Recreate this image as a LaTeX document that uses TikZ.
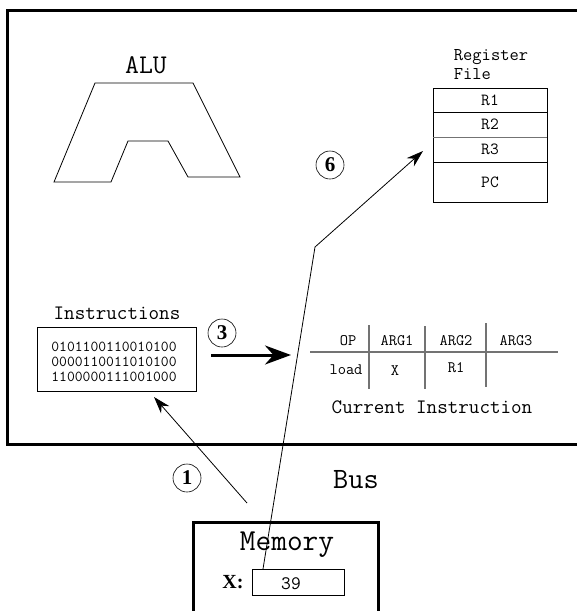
\documentclass[tikz,border=0pt]{standalone}
\usepackage{fontspec}
\setmainfont{Liberation Serif}
\usetikzlibrary{arrows.meta,positioning}
\begin{document}
\begin{tikzpicture}[x=1pt,y=-1pt,
    mono/.style={font=\ttfamily\fontsize{#1}{#1}\selectfont, inner sep=0pt},
    stepnum/.style={circle, draw, semithick, minimum size=28pt, inner sep=0pt,
      font=\bfseries\fontsize{21}{21}\selectfont},
    thinarrow/.style={-{Stealth[length=17pt,width=11pt]}, thick},
    tabline/.style={draw=black!55, line width=1.3pt}]
  \useasboundingbox (0,0) rectangle (577,611);
  \draw[line width=3pt] (582,10) -| (7,444) -- (582,444);
  \draw[line width=3pt] (193,616) |- (378,522) -- (378,616);
  \node[mono=27] (alulabel) at (146,65) {ALU};
  \draw[thick] (95,83) -- (193,83) -- (240,177) -- (188,177) -- (168,141)
    -- (128,141) -- (111,182) -- (54,182) -- cycle;
  \node[align=left, font=\ttfamily\fontsize{18}{19}\selectfont, inner sep=0pt] (reglabel) at (491,64.5) {Register\\File};
  \draw[thick] (433,88) rectangle (547,202);
  \draw[thick] (433,112) -- (547,112);
  \draw[thick, black!55] (433,137) -- (547,137);
  \draw[thick] (433,162) -- (547,162);
  \node[mono=17] (r1) at (490,100) {R1};
  \node[mono=17] (r2) at (490,124.5) {R2};
  \node[mono=17] (r3) at (490,149.5) {R3};
  \node[mono=17] (pc) at (490,182) {PC};
  \node[mono=20.5] (instrlabel) at (117,313) {Instructions};
  \node[draw, thick, minimum width=159pt, minimum height=64pt] (instr) at (116.5,359) {};
  \node[align=center, font=\ttfamily\fontsize{15.2}{15}\selectfont, inner sep=0pt] (bits) at (114,362) {0101100110010100\\0000110011010100\\1100000111001000};
  \node[stepnum] (n3) at (222,333) {3};
  \coordinate (thickfrom) at (211,355);
  \coordinate (thickto) at (291,355);
  \draw[line width=3pt, -{Stealth[length=26pt,width=19pt]}] (thickfrom) -- (thickto);
  \draw[tabline] (310,352) -- (558,352);
  \draw[tabline] (369,325) -- (369,389);
  \draw[tabline] (425,326) -- (425,389);
  \draw[tabline] (486,323) -- (486,387);
  \node[mono=16] (op) at (348,341) {OP};
  \node[mono=16] (arg1) at (397,341) {ARG1};
  \node[mono=16] (arg2) at (456,341) {ARG2};
  \node[mono=16] (arg3) at (516,341) {ARG3};
  \node[mono=16] (opval) at (346,370) {load};
  \node[mono=16] (arg1val) at (395,371) {X};
  \node[mono=16] (arg2val) at (456,368) {R1};
  \node[mono=20.5] (curlabel) at (432,407) {Current Instruction};
  \node[stepnum] (n6) at (330,165) {6};
  \node[stepnum] (n1) at (187,478) {1};
  \node[mono=29.5] (buslabel) at (356,480) {Bus};
  \node[mono=30.5] (memlabel) at (287,545) {Memory};
  \node[draw, thick, minimum width=92pt, minimum height=26pt, inner sep=0pt] (xval) at (298,582) {};
  \node[mono=19] (xnum) at (291,584) {39};
  \node[font=\bfseries\fontsize{20}{20}\selectfont, inner sep=0pt] (xlabel) at (233,582) {X:};
  \coordinate (memout) at (247,503);
  \coordinate (instrin) at (154,397);
  \draw[thinarrow] (memout) -- (instrin);
  \coordinate (busup) at (263,569);
  \coordinate (bend) at (315,247);
  \coordinate (regin) at (423,151);
  \draw[thinarrow] (busup) -- (bend) -- (regin);
\end{tikzpicture}
\end{document}
